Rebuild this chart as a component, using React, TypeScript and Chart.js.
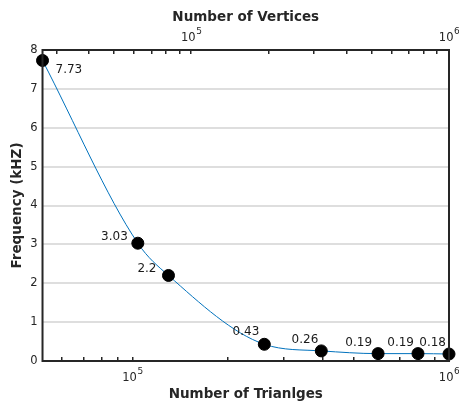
import React, { useEffect, useRef } from 'react';
import { Chart, registerables } from 'chart.js';

Chart.register(...registerables);

// ---- data ----
const triangles = [52000, 104000, 130000, 261000, 395000, 597000, 798000, 1000000];
const frequencyKHz = [7.73, 3.03, 2.2, 0.43, 0.26, 0.19, 0.19, 0.18];
const pointLabels = ['7.73', '3.03', '2.2', '0.43', '0.26', '0.19', '0.19', '0.18'];

const bottomRange = [52000, 1000000];
const topRange = [26500, 1000000];
const yRange = [0, 8];

const bottomTickValues = [60000, 70000, 80000, 90000, 100000, 200000, 300000, 400000, 500000, 600000, 700000, 800000, 900000, 1000000];
const topTickValues = [30000, 40000, 50000, 60000, 70000, 80000, 90000, 100000, 200000, 300000, 400000, 500000, 600000, 700000, 800000, 900000, 1000000];
const majorTickValues = [100000, 1000000];
const majorTickBase = ['10', '10'];
const majorTickExponent = ['5', '6'];

const xTitle = 'Number of Trianlges';
const x2Title = 'Number of Vertices';
const yTitle = 'Frequency (kHZ)';

// ---- styles (label placement relative to each point) ----
const labelPlacement: { align: CanvasTextAlign; dx: number; dy: number }[] = [
  { align: 'left', dx: 13, dy: 9 },
  { align: 'right', dx: -10, dy: -6 },
  { align: 'right', dx: -12, dy: -7 },
  { align: 'right', dx: -5, dy: -12 },
  { align: 'right', dx: -3, dy: -11 },
  { align: 'right', dx: -6, dy: -11 },
  { align: 'right', dx: -4, dy: -11 },
  { align: 'right', dx: -3, dy: -11 },
];

const AXIS = '#262626';
const FONT = "'DejaVu Sans', sans-serif";
const BASE_SIZE = 11.5;
const EXP_SIZE = 9;

const framePlugin = {
  id: 'frame',
  afterDatasetsDraw(chart: any) {
    const { ctx, chartArea: a } = chart;
    ctx.save();
    ctx.strokeStyle = AXIS;
    ctx.lineWidth = 2;
    ctx.strokeRect(a.left, a.top, a.right - a.left, a.bottom - a.top);
    ctx.restore();
  },
};

// power-of-ten tick labels (10 with superscript exponent), placed at the scales' tick pixels
const powerLabelPlugin = {
  id: 'powerLabels',
  afterDraw(chart: any) {
    const { ctx } = chart;
    ctx.save();
    ctx.fillStyle = AXIS;
    ctx.textBaseline = 'middle';
    ctx.textAlign = 'left';
    ['x', 'x2'].forEach((id) => {
      const s = chart.scales[id];
      const a = chart.chartArea;
      const isTop = s.position === 'top';
      majorTickValues.forEach((v, i) => {
        const px = s.getPixelForValue(v);
        ctx.font = `${BASE_SIZE}px ${FONT}`;
        const wb = ctx.measureText(majorTickBase[i]).width;
        ctx.font = `${EXP_SIZE}px ${FONT}`;
        const we = ctx.measureText(majorTickExponent[i]).width;
        const x0 = px - (wb + we) / 2;
        const yb = isTop ? a.top - 12 : a.bottom + 17;
        ctx.font = `${BASE_SIZE}px ${FONT}`;
        ctx.fillText(majorTickBase[i], x0, yb);
        ctx.font = `${EXP_SIZE}px ${FONT}`;
        ctx.fillText(majorTickExponent[i], x0 + wb + 0.5, yb - 6);
      });
    });
    ctx.restore();
  },
};

const labelPlugin = {
  id: 'pointLabels',
  afterDraw(chart: any) {
    const { ctx } = chart;
    const meta = chart.getDatasetMeta(0);
    ctx.save();
    ctx.font = `12px ${FONT}`;
    ctx.fillStyle = '#1a1a1a';
    ctx.textBaseline = 'middle';
    meta.data.forEach((pt: any, i: number) => {
      const p = labelPlacement[i];
      ctx.textAlign = p.align;
      ctx.fillText(pointLabels[i], pt.x + p.dx, pt.y + p.dy);
    });
    ctx.restore();
  },
};

const titleFont = { family: FONT, size: 13.5, weight: 'bold' as const };

export default function App() {
  const ref = useRef<HTMLCanvasElement | null>(null);

  useEffect(() => {
    if (!ref.current) return;
    const chart = new Chart(ref.current, {
      type: 'line',
      data: {
        datasets: [
          {
            data: triangles.map((t, i) => ({ x: t, y: frequencyKHz[i] })),
            borderColor: '#0072BD',
            borderWidth: 1,
            backgroundColor: '#000000',
            pointBackgroundColor: '#000000',
            pointBorderColor: '#000000',
            pointRadius: 6,
            pointBorderWidth: 1,
            cubicInterpolationMode: 'monotone',
            clip: false as any,
            xAxisID: 'x',
            yAxisID: 'y',
          },
        ],
      },
      options: {
        animation: false,
        responsive: true,
        maintainAspectRatio: false,
        layout: { padding: { left: 9, right: 10, top: 9, bottom: 4 } },
        plugins: { legend: { display: false }, tooltip: { enabled: false } },
        scales: {
          x: {
            type: 'logarithmic',
            position: 'bottom',
            min: bottomRange[0],
            max: bottomRange[1],
            afterBuildTicks: (s: any) => {
              s.ticks = bottomTickValues.map((v) => ({ value: v }));
            },
            ticks: { display: false, autoSkip: false },
            grid: { drawOnChartArea: false, drawTicks: true, tickLength: -4, color: AXIS, lineWidth: 1.5 },
            border: { display: false },
            title: { display: true, text: xTitle, color: AXIS, font: titleFont, padding: { top: 29.8, bottom: 0 } },
          },
          x2: {
            type: 'logarithmic',
            position: 'top',
            min: topRange[0],
            max: topRange[1],
            afterBuildTicks: (s: any) => {
              s.ticks = topTickValues.map((v) => ({ value: v }));
            },
            ticks: { display: false, autoSkip: false },
            grid: { drawOnChartArea: false, drawTicks: true, tickLength: -4, color: AXIS, lineWidth: 1.5 },
            border: { display: false },
            title: { display: true, text: x2Title, color: AXIS, font: titleFont, padding: { top: 0, bottom: 28.8 } },
          },
          y: {
            type: 'linear',
            position: 'left',
            min: yRange[0],
            max: yRange[1],
            ticks: { stepSize: 1, color: AXIS, font: { family: FONT, size: BASE_SIZE }, padding: 5 },
            grid: {
              drawTicks: false,
              color: '#dedede',
              lineWidth: 2,
            },
            border: { display: false },
            title: { display: true, text: yTitle, color: AXIS, font: titleFont, padding: { top: 0, bottom: 0 } },
          },
        },
      },
      plugins: [framePlugin, powerLabelPlugin, labelPlugin],
    } as any);
    return () => chart.destroy();
  }, []);

  return (
    <div style={{ position: 'fixed', left: 0, top: 0, width: 459, height: 407, overflow: 'hidden', background: '#fff' }}>
      <div style={{ position: 'relative', width: 459, height: 407 }}>
        <canvas ref={ref} />
      </div>
    </div>
  );
}
